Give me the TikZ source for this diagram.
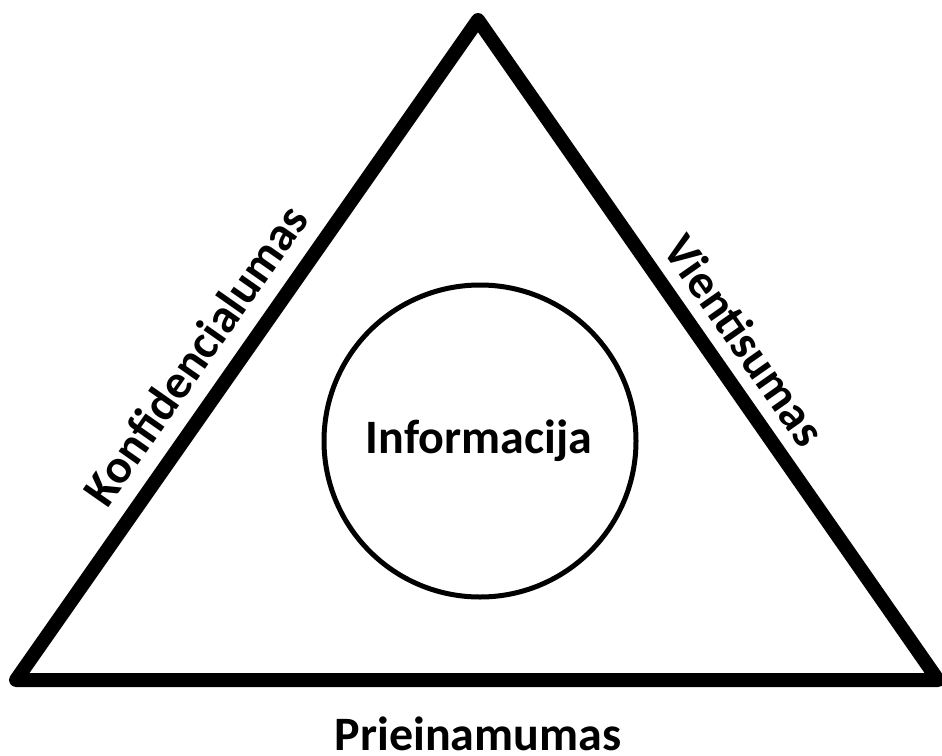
\documentclass[tikz,border=0pt]{standalone}
\usepackage{fontspec}
\setmainfont{Carlito}
\begin{document}
\begin{tikzpicture}[x=1pt,y=-1pt,
  lbl/.style={font=\fontsize{48}{56}\selectfont\bfseries, inner sep=0pt}]
\useasboundingbox (0,0) rectangle (942,755);
\coordinate (A) at (16,680);
\coordinate (T) at (478,20);
\coordinate (B) at (938,680);
\draw[line width=14pt, line join=round] (A) -- (T) -- (B) -- cycle;
\node[draw, circle, line width=5pt, minimum size=312pt, inner sep=0pt] (c) at (480,441) {};
\node[lbl, anchor=base] (info) at (479,453) {Informacija};
\node[lbl, anchor=base] (pr) at (478,750) {Prieinamumas};
\node[lbl, rotate=55] (konf) at (195,355) {Konfidencialumas};
\node[lbl, rotate=-55] (vien) at (745,340) {Vientisumas};
\end{tikzpicture}
\end{document}
